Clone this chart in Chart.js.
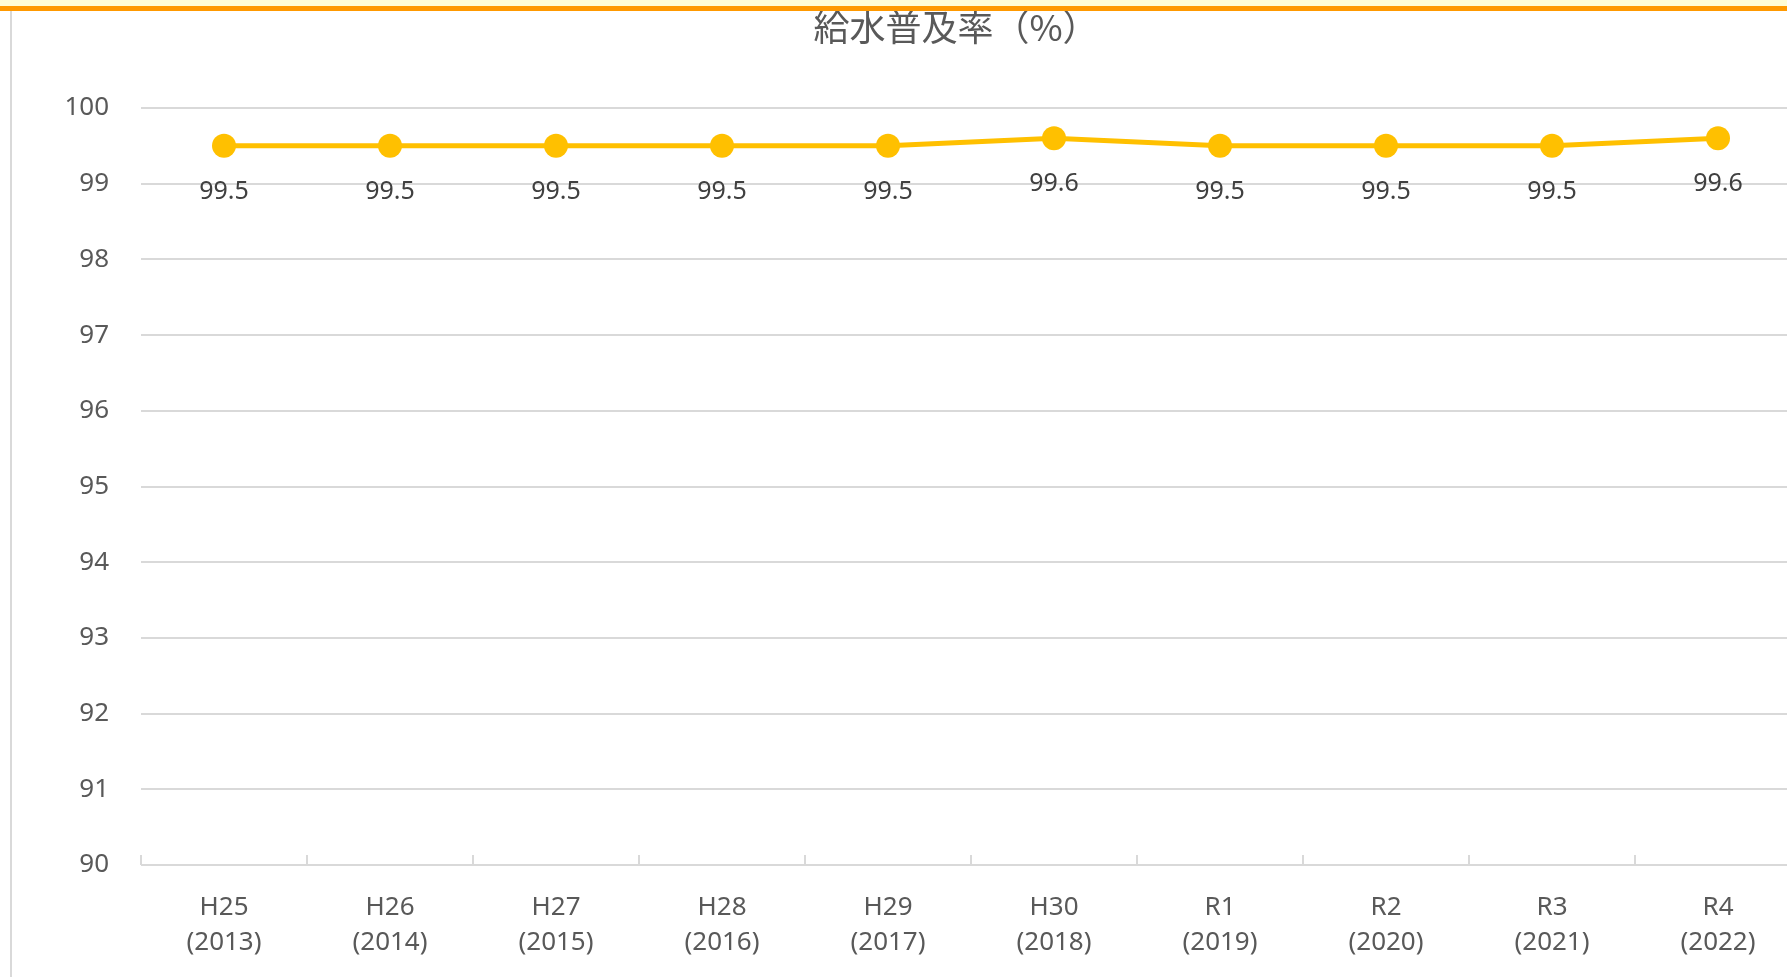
<!DOCTYPE html>
<html lang="ja">
<head>
<meta charset="utf-8">
<title>給水普及率（%）</title>
<script src="https://cdn.jsdelivr.net/npm/chart.js@4.4.1/dist/chart.umd.min.js"></script>
<style>
    html, body {
        margin: 0;
        padding: 0;
        width: 1787px;
        height: 977px;
        overflow: hidden;
        background: #ffffff;
    }
    #chartTitle {
        position: absolute;
        left: 0;
        top: 7px;
        width: 1912px;
        text-align: center;
        font-family: "Noto Sans CJK JP", sans-serif;
        font-size: 36px;
        line-height: 36px;
        color: #595959;
        z-index: 1;
    }
    .band {
        position: absolute;
        left: 0;
        top: 0;
        width: 1787px;
        height: 6px;
        background: #fffdd5;
        z-index: 2;
    }
    .rule {
        position: absolute;
        left: 0;
        top: 6px;
        width: 1787px;
        height: 5px;
        background: #ff9900;
        z-index: 2;
    }
    .frame-left {
        position: absolute;
        left: 10px;
        top: 11px;
        width: 2px;
        height: 966px;
        background: #d9d9d9;
        z-index: 2;
    }
    .chart-wrap {
        position: absolute;
        left: 0;
        top: 0;
        width: 1801px;
        height: 977px;
    }
</style>
</head>
<body>
<div class="band"></div>
<div class="rule"></div>
<div class="frame-left"></div>
<div id="chartTitle">給水普及率（%）</div>
<div class="chart-wrap">
    <canvas id="rateChart" width="1801" height="977"></canvas>
</div>

<script>
// Fiscal years (Japanese era) and western years
const eraLabels = ['H25', 'H26', 'H27', 'H28', 'H29', 'H30', 'R1', 'R2', 'R3', 'R4'];
const yearLabels = ['(2013)', '(2014)', '(2015)', '(2016)', '(2017)', '(2018)', '(2019)', '(2020)', '(2021)', '(2022)'];

// Water supply coverage rate (%)
const coverageRates = [99.5, 99.5, 99.5, 99.5, 99.5, 99.6, 99.5, 99.5, 99.5, 99.6];

// Value axis
const yMin = 90;
const yMax = 100;
const yStep = 1;

const lineColor = '#FFC000';
const gridColor = '#D9D9D9';
const axisTextColor = '#595959';
const labelTextColor = '#404040';
const fontFamily = '"Noto Sans", "Liberation Sans", sans-serif';

// Small inward tick marks on the category axis, like Excel
const categoryTicks = {
    id: 'categoryTicks',
    beforeDatasetsDraw(chart) {
        const x = chart.scales.x;
        const ctx = chart.ctx;
        const bottom = chart.chartArea.bottom;
        ctx.save();
        ctx.strokeStyle = gridColor;
        ctx.lineWidth = 2;
        ctx.beginPath();
        for (let i = 0; i <= eraLabels.length; i++) {
            const px = Math.round(x.getPixelForValue(i - 0.5));
            ctx.moveTo(px, bottom);
            ctx.lineTo(px, bottom - 10);
        }
        ctx.stroke();
        ctx.restore();
    }
};

// Value labels below each point
const pointLabels = {
    id: 'pointLabels',
    afterDatasetsDraw(chart) {
        const ctx = chart.ctx;
        const meta = chart.getDatasetMeta(0);
        ctx.save();
        ctx.font = '25px ' + fontFamily;
        ctx.fillStyle = labelTextColor;
        ctx.textAlign = 'center';
        ctx.textBaseline = 'middle';
        meta.data.forEach((pt, i) => {
            ctx.fillText(coverageRates[i].toFixed(1), pt.x, pt.y + 46);
        });
        ctx.restore();
    }
};

function initializeChart() {
    const ctx = document.getElementById('rateChart');
    if (!ctx) return;

    new Chart(ctx, {
        type: 'line',
        data: {
            labels: eraLabels.map((era, i) => [era, yearLabels[i]]),
            datasets: [{
                label: '給水普及率（%）',
                data: coverageRates,
                borderColor: lineColor,
                backgroundColor: lineColor,
                borderWidth: 5,
                pointRadius: 12,
                pointBorderWidth: 0,
                pointBackgroundColor: lineColor,
                tension: 0,
                fill: false,
                clip: false
            }]
        },
        options: {
            responsive: false,
            animation: false,
            devicePixelRatio: 1,
            layout: {
                autoPadding: false,
                padding: { top: 108, left: 0, right: 0, bottom: 0 }
            },
            plugins: {
                legend: { display: false },
                tooltip: { enabled: false },
                title: { display: false }
            },
            scales: {
                x: {
                    type: 'category',
                    offset: true,
                    grid: { display: false },
                    border: { display: false },
                    ticks: {
                        color: axisTextColor,
                        font: { family: fontFamily, size: 26, lineHeight: 1.35 },
                        padding: 17,
                        maxRotation: 0,
                        autoSkip: false
                    },
                    afterFit(scale) {
                        scale.height = 112;
                    }
                },
                y: {
                    min: yMin,
                    max: yMax,
                    grid: {
                        color: gridColor,
                        lineWidth: 2,
                        drawTicks: false
                    },
                    border: { display: false },
                    ticks: {
                        stepSize: yStep,
                        color: axisTextColor,
                        font: { family: fontFamily, size: 26 },
                        padding: 32
                    },
                    afterFit(scale) {
                        scale.width = 141;
                    }
                }
            }
        },
        plugins: [categoryTicks, pointLabels]
    });
}

document.addEventListener('DOMContentLoaded', initializeChart);
</script>
</body>
</html>
